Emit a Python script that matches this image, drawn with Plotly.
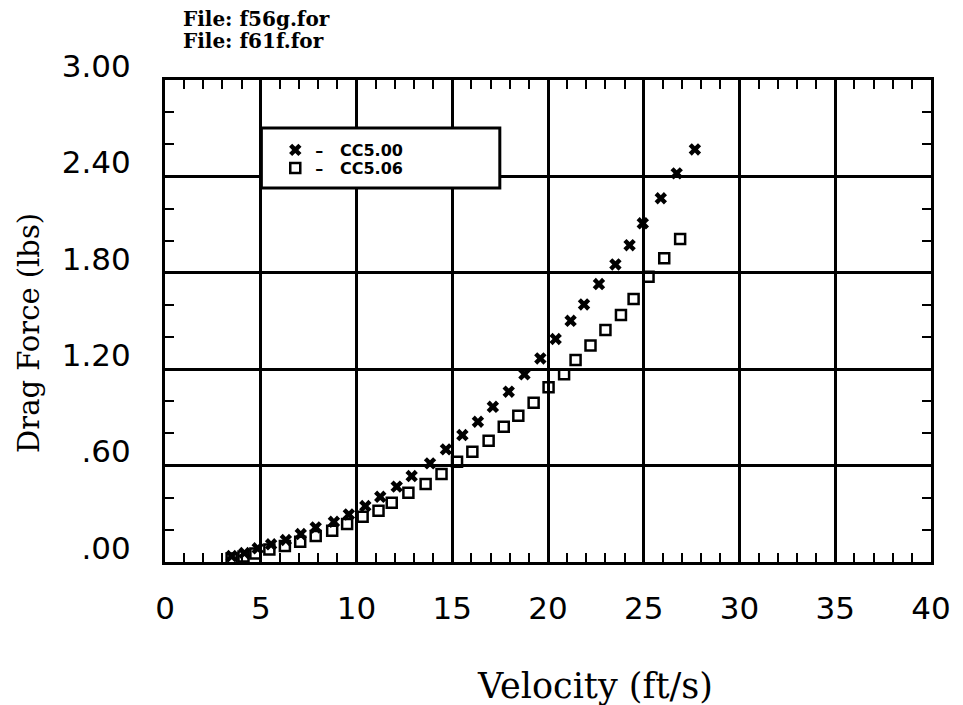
import plotly.graph_objects as go

# Drag force measurements, two configurations
vel_cc500 = [3.48, 4.15, 4.84, 5.54, 6.31, 7.09, 7.87, 8.82, 9.60, 10.46,
             11.24, 12.10, 12.88, 13.84, 14.67, 15.53, 16.34, 17.12, 17.95, 18.77,
             19.60, 20.40, 21.18, 21.88, 22.66, 23.52, 24.26, 24.95, 25.89, 26.72,
             27.67]
drag_cc500 = [0.037, 0.056, 0.085, 0.110, 0.137, 0.174, 0.215, 0.250, 0.296, 0.348,
              0.406, 0.469, 0.535, 0.614, 0.701, 0.790, 0.873, 0.966, 1.060, 1.168,
              1.267, 1.388, 1.501, 1.603, 1.730, 1.852, 1.972, 2.108, 2.264, 2.419,
              2.568]

vel_cc506 = [3.48, 4.10, 4.72, 5.45, 6.26, 7.06, 7.87, 8.73, 9.51, 10.32,
             11.15, 11.84, 12.71, 13.61, 14.44, 15.25, 16.05, 16.90, 17.69, 18.45,
             19.25, 20.03, 20.84, 21.44, 22.22, 23.00, 23.81, 24.47, 25.25, 26.07,
             26.90]
drag_cc506 = [0.022, 0.034, 0.053, 0.078, 0.100, 0.126, 0.162, 0.195, 0.236, 0.282,
              0.319, 0.369, 0.431, 0.485, 0.548, 0.624, 0.686, 0.755, 0.842, 0.910,
              0.991, 1.087, 1.168, 1.257, 1.347, 1.444, 1.537, 1.637, 1.775, 1.890,
              2.010]

x_ticks = [0, 5, 10, 15, 20, 25, 30, 35, 40]
y_ticks = [0.0, 0.6, 1.2, 1.8, 2.4, 3.0]
y_tick_text = [".00", ".60", "1.20", "1.80", "2.40", "3.00"]
file_labels = ["File: f56g.for", "File: f61f.for"]

# plot area in pixels (left, right, top, bottom)
L, R, T, B = 165, 936, 80, 562


def px_x(p):
    return (p - L) / (R - L)


def px_y(p):
    return (B - p) / (B - T)


fig = go.Figure()
fig.add_trace(go.Scatter(
    x=vel_cc500, y=drag_cc500, mode="markers", name="–   CC5.00", legend="legend",
    marker=dict(symbol="x", size=11, color="black", line=dict(width=0)),
))
fig.add_trace(go.Scatter(
    x=vel_cc506, y=drag_cc506, mode="markers", name="–   CC5.06", legend="legend2",
    marker=dict(symbol="square-open", size=10, color="black", line=dict(width=2.5)),
))

tick_font = dict(family="DejaVu Sans", size=31, color="black")

fig.update_xaxes(
    range=[0, 40], tickvals=x_ticks, ticks="inside", ticklen=0,
    showgrid=True, gridcolor="black", gridwidth=3,
    showline=True, linecolor="black", linewidth=3, mirror="allticks",
    zeroline=False, tickfont=tick_font, ticklabelstandoff=17,
    minor=dict(dtick=1, ticks="inside", ticklen=9, tickwidth=2, tickcolor="black", showgrid=False),
)
fig.update_yaxes(
    range=[0, 3], tickvals=y_ticks, ticktext=y_tick_text, ticks="inside", ticklen=0,
    showgrid=True, gridcolor="black", gridwidth=3,
    showline=True, linecolor="black", linewidth=3, mirror="allticks",
    zeroline=False, tickfont=tick_font, ticklabelstandoff=25, ticklabelshift=-14,
    minor=dict(dtick=0.2, ticks="inside", ticklen=9, tickwidth=2, tickcolor="black", showgrid=False),
)

# legend frame
fig.add_shape(
    type="rect", xref="paper", yref="paper",
    x0=px_x(262), x1=px_x(502), y0=px_y(188), y1=px_y(128),
    line=dict(color="black", width=3), fillcolor="white", layer="above",
)

for label, ypix in zip(file_labels, [19, 41]):
    fig.add_annotation(
        text=label, xref="paper", yref="paper", x=px_x(181), y=px_y(ypix),
        xanchor="left", yanchor="middle", showarrow=False,
        font=dict(family="DejaVu Serif", size=20, color="black", weight="bold"),
    )
fig.add_annotation(
    text="Velocity (ft/s)", xref="paper", yref="paper",
    x=px_x(598), y=px_y(686),
    xanchor="center", yanchor="middle", showarrow=False,
    font=dict(family="DejaVu Serif", size=35, color="black"),
)
fig.add_annotation(
    text="Drag Force (lbs)", xref="paper", yref="paper",
    x=px_x(28), y=px_y(333), textangle=-90,
    xanchor="center", yanchor="middle", showarrow=False,
    font=dict(family="DejaVu Serif", size=29, color="black"),
)

legend_style = dict(
    xanchor="left", yanchor="middle", bgcolor="rgba(0,0,0,0)", borderwidth=0,
    font=dict(family="DejaVu Sans", size=16, color="black", weight="bold"),
)
fig.update_layout(
    width=963, height=705,
    margin=dict(l=L, r=963 - R, t=T, b=705 - B),
    paper_bgcolor="white", plot_bgcolor="white",
    showlegend=True,
    legend=dict(x=px_x(276), y=px_y(150), **legend_style),
    legend2=dict(x=px_x(276), y=px_y(168), **legend_style),
)

fig.write_html("out.html")
